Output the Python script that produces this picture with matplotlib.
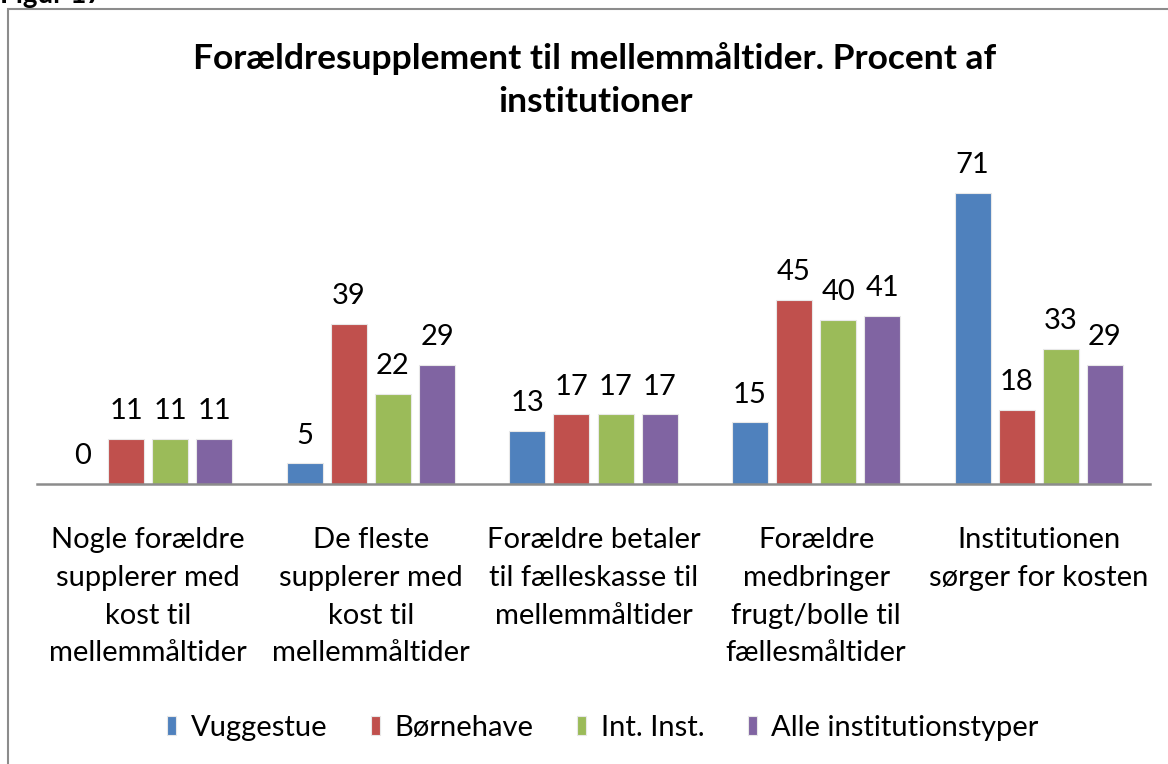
import numpy as np
import matplotlib.pyplot as plt
from matplotlib.patches import Rectangle

# data
categories = ["Nogle forældre\nsupplerer med\nkost til\nmellemmåltider",
              "De fleste\nsupplerer med\nkost til\nmellemmåltider",
              "Forældre betaler\ntil fælleskasse til\nmellemmåltider",
              "Forældre\nmedbringer\nfrugt/bolle til\nfællesmåltider",
              "Institutionen\nsørger for kosten"]
series_names = ["Vuggestue", "Børnehave", "Int. Inst.", "Alle institutionstyper"]
vuggestue = [0, 5, 13, 15, 71]
boernehave = [11, 39, 17, 45, 18]
int_inst = [11, 22, 17, 40, 33]
alle = [11, 29, 17, 41, 29]
colors = ["#4F81BD", "#C0504D", "#9BBB59", "#8064A2"]

plt.rcParams['font.family'] = ['Lato', 'DejaVu Sans']

fig = plt.figure(figsize=(11.68, 7.64), dpi=100)
ax = fig.add_axes([37/1168, 1-484/764, 1113/1168, 328/764])

x = np.arange(len(categories))
step = 0.198
width = 0.162
for i, (vals, name) in enumerate(zip([vuggestue, boernehave, int_inst, alle], series_names)):
    pos = x + (i - 1.5) * step
    ax.bar(pos, vals, width, color=colors[i], label=name,
           edgecolor="#e8e8e8", linewidth=0.8)
    for p, v in zip(pos, vals):
        ax.text(p, v + 3.6, str(v), ha="center", va="bottom", fontsize=21)

ax.set_xlim(-0.5, len(categories) - 0.5)
ax.set_ylim(0, 80)
ax.set_yticks([])
ax.set_xticks(x)
ax.set_xticklabels(categories, fontsize=21, linespacing=1.56, va="top")
ax.tick_params(axis="x", length=0, pad=31)
for s in ["top", "right", "left"]:
    ax.spines[s].set_visible(False)
ax.spines["bottom"].set_color("#8c8c8c")
ax.spines["bottom"].set_linewidth(1.8)

fig.text(595/1168, 1-80/764, "Forældresupplement til mellemmåltider. Procent af\ninstitutioner",
         ha="center", va="center", fontsize=25.5, fontweight="bold", linespacing=1.45)

fig.legend(loc="center", bbox_to_anchor=(603/1168, 1-728/764), ncol=4, frameon=False,
           fontsize=21, handlelength=0.3, handleheight=0.6, handletextpad=0.5,
           columnspacing=1.5)

# outer chart border (cut off at right and bottom)
fig.patches.append(Rectangle((8/1168, -0.1), 1.2, 1.1 - 9/764, transform=fig.transFigure,
                             fill=False, edgecolor="#8c8c8c", linewidth=1.5))
fig.text(0.0, 1-3/764, "Figur 17", ha="left", va="baseline", fontsize=20, fontweight="bold")

fig.savefig("out.png", dpi=100)
